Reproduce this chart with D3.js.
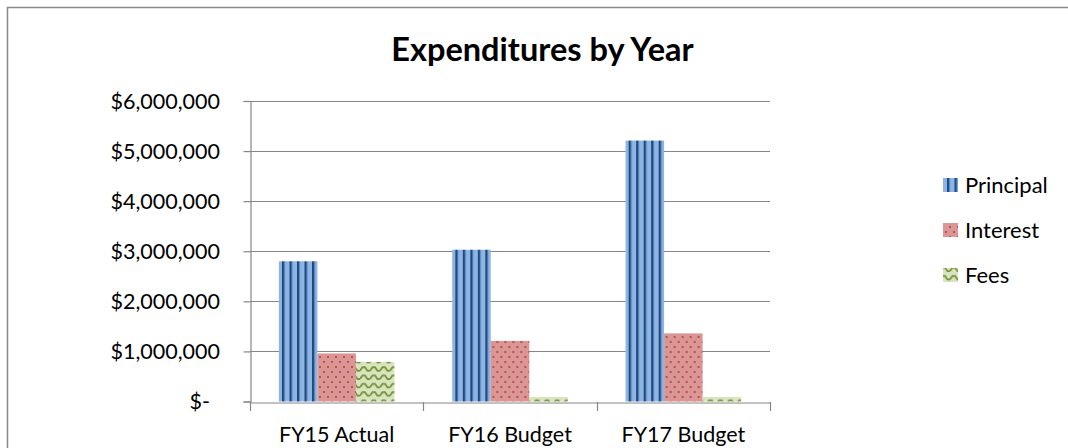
<!DOCTYPE html>
<html>
<head>
<meta charset="utf-8">
<script src="https://cdn.jsdelivr.net/npm/d3@7"></script>
<style>
  html, body { margin: 0; padding: 0; background: #fff; }
  svg { display: block; }
  text { font-family: Lato, "Open Sans", sans-serif; fill: #000; }
</style>
</head>
<body>
<svg id="chart" width="1068" height="448"></svg>
<script>
const categories = ["FY15 Actual", "FY16 Budget", "FY17 Budget"];
const seriesNames = ["Principal", "Interest", "Fees"];
const principal = [2800000, 3030000, 5210000];
const interest = [960000, 1210000, 1360000];
const fees = [790000, 90000, 90000];
const yTicks = [0, 1000000, 2000000, 3000000, 4000000, 5000000, 6000000];
const yTickLabels = ["$-", "$1,000,000", "$2,000,000", "$3,000,000", "$4,000,000", "$5,000,000", "$6,000,000"];
const title = "Expenditures by Year";

const seriesValues = [principal, interest, fees];
const patternIds = ["pPrincipal", "pInterest", "pFees"];

const svg = d3.select("#chart");
const defs = svg.append("defs");

// Principal: dark vertical stripes on light blue
const p1 = defs.append("pattern").attr("id", "pPrincipal").attr("patternUnits", "userSpaceOnUse")
  .attr("x", 2).attr("y", 0).attr("width", 7.5).attr("height", 10);
p1.append("rect").attr("width", 7.5).attr("height", 10).attr("fill", "#8EB4E3");
p1.append("rect").attr("x", 0).attr("width", 2).attr("height", 10).attr("fill", "#1F497D");
p1.append("rect").attr("x", 2).attr("width", 1).attr("height", 10).attr("fill", "#4F7DB6");

// Interest: red dots on pink
const p2 = defs.append("pattern").attr("id", "pInterest").attr("patternUnits", "userSpaceOnUse")
  .attr("width", 8).attr("height", 10);
p2.append("rect").attr("width", 8).attr("height", 10).attr("fill", "#D99694");
p2.append("rect").attr("x", 1).attr("y", 1).attr("width", 2).attr("height", 2).attr("fill", "#C0504D");
p2.append("rect").attr("x", 5).attr("y", 6).attr("width", 2).attr("height", 2).attr("fill", "#C0504D");

// Fees: green waves on light green
const p3 = defs.append("pattern").attr("id", "pFees").attr("patternUnits", "userSpaceOnUse")
  .attr("width", 10).attr("height", 8.3);
p3.append("rect").attr("width", 10).attr("height", 8.3).attr("fill", "#D7E4BD");
p3.append("path").attr("d", "M0,5.5 L2.5,2 L5,2 L7.5,5.5 L10,5.5")
  .attr("fill", "none").attr("stroke", "#77933C").attr("stroke-width", 1.8);

// chart frame
svg.append("path").attr("d", "M7.5,448 L7.5,7.5 L1068,7.5")
  .attr("fill", "none").attr("stroke", "#898989").attr("stroke-width", 1.5);

// title
svg.append("text").attr("x", 542.5).attr("y", 61).attr("text-anchor", "middle")
  .attr("font-weight", "bold").attr("font-size", 32.5).text(title);

const x0 = d3.scaleBand().domain(categories).range([250, 770]).paddingInner(0).paddingOuter(0);
const x1 = d3.scaleBand().domain(seriesNames).range([0, x0.bandwidth()]).paddingInner(0).paddingOuter(0.75);
const y = d3.scaleLinear().domain([0, 6000000]).range([401.5, 101]);

// gridlines
svg.append("g").selectAll("line").data(yTicks.filter(d => d > 0)).join("line")
  .attr("x1", 250).attr("x2", 770)
  .attr("y1", d => Math.round(y(d)) + 0.5).attr("y2", d => Math.round(y(d)) + 0.5)
  .attr("stroke", "#868686").attr("stroke-width", 1.2);

// y axis
const yAxis = d3.axisLeft(y).tickValues(yTicks).tickSize(7).tickPadding(0).tickFormat((d, i) => "");
const gy = svg.append("g").attr("transform", "translate(250.5,0)").call(yAxis);
gy.select(".domain").attr("stroke", "#868686").attr("stroke-width", 1.2);
gy.selectAll(".tick line").attr("stroke", "#868686").attr("stroke-width", 1.2);

svg.append("g").selectAll("text").data(yTicks).join("text")
  .attr("x", (d, i) => d === 0 ? 210 : 220)
  .attr("y", d => y(d) + 7.5)
  .attr("text-anchor", "end").attr("font-size", 21.5)
  .text((d, i) => yTickLabels[i]);

// bars
const groups = svg.append("g").selectAll("g").data(categories).join("g")
  .attr("transform", d => `translate(${x0(d)},0)`);
groups.selectAll("rect").data((c, ci) => seriesNames.map((s, si) => ({ s, si, v: seriesValues[si][ci] })))
  .join("rect")
  .attr("x", d => x1(d.s)).attr("width", x1.bandwidth())
  .attr("y", d => y(d.v)).attr("height", d => y(0) - y(d.v))
  .attr("fill", d => `url(#${patternIds[d.si]})`);

// x axis
const xAxisLine = d3.axisBottom(x0).tickSize(0).tickFormat(() => "");
const gx = svg.append("g").attr("transform", `translate(0,${Math.round(y(0)) + 0.5})`).call(xAxisLine);
gx.select(".domain").attr("stroke", "#868686").attr("stroke-width", 1.2);
gx.selectAll(".tick").remove();
const boundaries = [0, 1, 2, 3].map(i => 250 + i * x0.step());
svg.append("g").selectAll("line").data(boundaries).join("line")
  .attr("x1", d => Math.round(d) + 0.5).attr("x2", d => Math.round(d) + 0.5)
  .attr("y1", Math.round(y(0))).attr("y2", Math.round(y(0)) + 9)
  .attr("stroke", "#868686").attr("stroke-width", 1.2);

svg.append("g").selectAll("text").data(categories).join("text")
  .attr("x", d => x0(d) + x0.bandwidth() / 2).attr("y", 441.5)
  .attr("text-anchor", "middle").attr("font-size", 21.5).text(d => d);

// legend
const legendY = [185, 230, 275];
const lg = svg.append("g").selectAll("g").data(seriesNames).join("g");
lg.append("rect").attr("x", 943).attr("y", (d, i) => legendY[i] - 7).attr("width", 15).attr("height", 14)
  .attr("fill", (d, i) => `url(#${patternIds[i]})`);
lg.append("text").attr("x", 965).attr("y", (d, i) => legendY[i] + 7.5)
  .attr("font-size", 22).text(d => d);
</script>
</body>
</html>
